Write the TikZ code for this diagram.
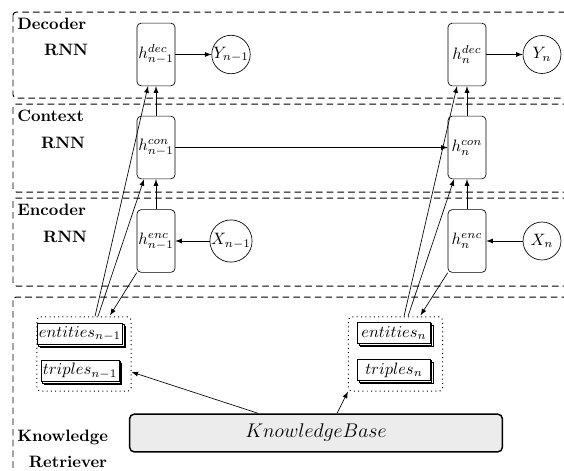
\documentclass[tikz,border=0pt]{standalone}
\usetikzlibrary{shadows,calc,arrows}
\begin{document}
\begin{tikzpicture}[x=0.606pt,y=-0.606pt,
  hbox/.style={draw, rounded corners=2.5pt, minimum width=23pt, minimum height=38pt, inner sep=0pt},
  circ/.style={draw, circle, minimum size=23pt, inner sep=0pt},
  region/.style={draw, dash pattern=on 4pt off 2.5pt, line width=0.6pt, rounded corners=2pt},
  lab/.style={font=\bfseries, inner sep=0pt},
  stack/.style={draw, fill=white, minimum width=44pt, minimum height=13pt, inner sep=1pt,
    double copy shadow={shadow xshift=0.9pt, shadow yshift=-0.9pt}},
  grp/.style={draw, dotted, line width=0.6pt, rounded corners=2pt, minimum width=57pt, minimum height=45pt, inner sep=0pt},
  arr/.style={-latex},
  kb/.style={draw, line width=0.9pt, fill=gray!15, rounded corners=3pt, minimum width=226pt, minimum height=23pt, font=\large}
]
\useasboundingbox (0,0) rectangle (564,470);
\clip (0,0) rectangle (564,470);
% regions
\draw[region] (13,12) rectangle (620,98);
\draw[region] (13,104) rectangle (620,192);
\draw[region] (13,198) rectangle (620,286);
\draw[region] (13,297) rectangle (620,540);
% labels
\node[lab, anchor=west] (l1) at (17,24) {Decoder};
\node[lab] (l1b) at (66,50) {RNN};
\node[lab, anchor=west] (l2) at (17,116) {Context};
\node[lab] (l2b) at (63,143) {RNN};
\node[lab, anchor=west] (l3) at (17,210) {Encoder};
\node[lab] (l3b) at (65,237) {RNN};
\node[lab, anchor=west] (l4) at (17,437) {Knowledge};
\node[lab] (l4b) at (68,462) {Retriever};
% h nodes
\node[hbox] (decA) at (156,54.5) {$h^{dec}_{n-1}$};
\node[hbox] (conA) at (156,147.5) {$h^{con}_{n-1}$};
\node[hbox] (encA) at (156,241) {$h^{enc}_{n-1}$};
\node[hbox] (decB) at (467,54.5) {$h^{dec}_{n}$};
\node[hbox] (conB) at (467,147.5) {$h^{con}_{n}$};
\node[hbox] (encB) at (467,241) {$h^{enc}_{n}$};
% circles
\node[circ] (YA) at (231,54.5) {$Y_{n-1}$};
\node[circ] (YB) at (542,54.5) {$Y_{n}$};
\node[circ] (XA) at (231,241) {$X_{n-1}$};
\node[circ] (XB) at (542,241) {$X_{n}$};
% knowledge groups
\node[grp] (gA) at (84,354) {};
\node[grp] (gB) at (395.5,354) {};
\node[stack] (entA) at (80,334) {$entities_{n-1}$};
\node[stack] (triA) at (80,371) {$triples_{n-1}$};
\node[stack] (entB) at (394,333) {$entities_{n}$};
\node[stack] (triB) at (394,370) {$triples_{n}$};
% knowledge base
\node[kb] (KB) at (316,433) {$KnowledgeBase$};
% connectors
\draw[arr] (decA) -- (YA);
\draw[arr] (decB) -- (YB);
\draw[arr] (XA) -- (encA);
\draw[arr] (XB) -- (encB);
\draw[arr] (conA) -- (conB);
\draw[arr] (conA) -- (decA);
\draw[arr] (encA) -- (conA);
\draw[arr] (conB) -- (decB);
\draw[arr] (encB) -- (conB);
\draw[arr] ($(gA.north)+(11,0)$) -- ($(decA.south)+(-8,0)$);
\draw[arr] ($(gA.north)+(14,0)$) -- ($(conA.south)+(-12,0)$);
\draw[arr] (encA.south west) -- ($(gA.north)+(26,-1)$);
\draw[arr] ($(gB.north)+(8.5,0)$) -- ($(decB.south)+(-10,0)$);
\draw[arr] ($(gB.north)+(12.5,0)$) -- ($(conB.south)+(-13,0)$);
\draw[arr] (encB.south west) -- ($(gB.north)+(25,-1)$);
\draw[arr] ($(KB.north)+(-58,0)$) -- ($(gA.east)+(0,18)$);
\draw[arr] ($(KB.north)+(21,0)$) -- (gB.south west);
\end{tikzpicture}
\end{document}
